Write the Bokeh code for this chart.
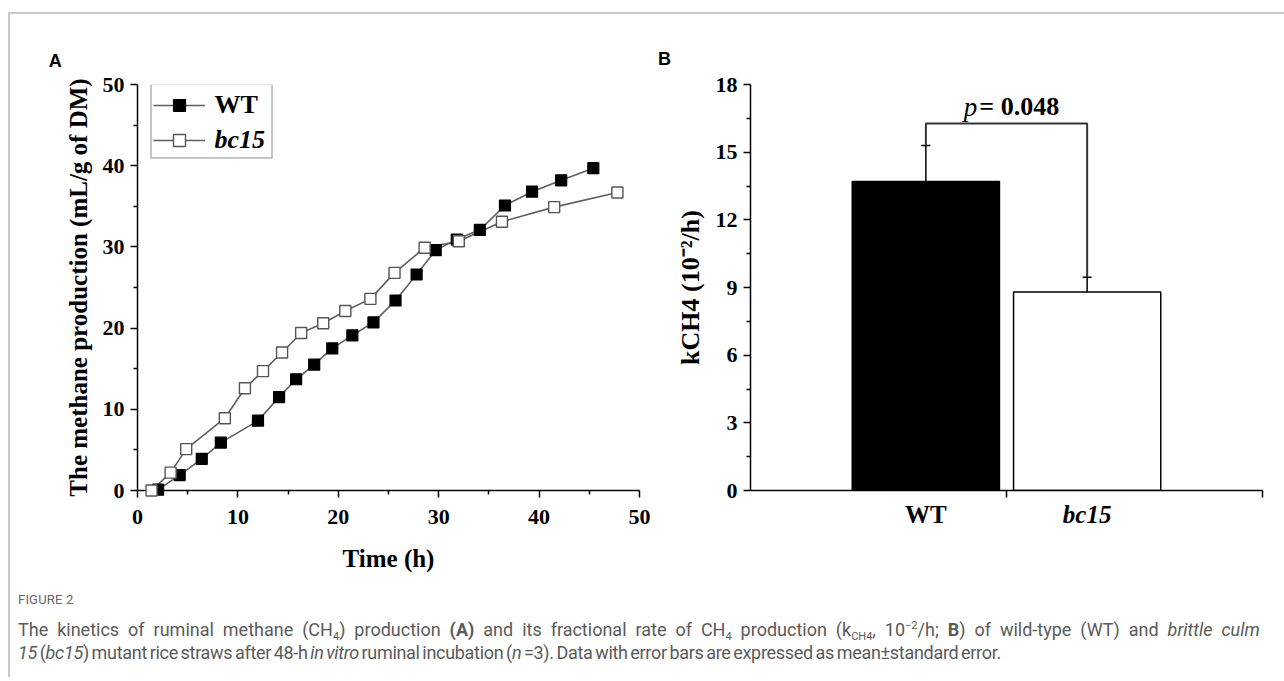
from bokeh.plotting import figure
from bokeh.models import (Range1d, FixedTicker, Legend, LegendItem, BoxAnnotation,
                          Label, Whisker, TeeHead, ColumnDataSource, Div, Spacer)
from bokeh.layouts import row, column
from bokeh.embed import file_html
from bokeh.resources import INLINE
from bokeh.core.properties import value

# ---------------- data ----------------
wt_time = [2.05, 4.2, 6.4, 8.3, 12.0, 14.1, 15.8, 17.6, 19.4, 21.4, 23.5, 25.7,
           27.8, 29.7, 31.8, 34.1, 36.6, 39.3, 42.2, 45.4]
wt_ch4 = [0.1, 1.9, 3.9, 5.9, 8.6, 11.5, 13.7, 15.5, 17.5, 19.1, 20.7, 23.4,
          26.6, 29.6, 30.9, 32.1, 35.1, 36.8, 38.2, 39.7]
bc15_time = [1.4, 3.3, 4.85, 8.7, 10.7, 12.5, 14.4, 16.3, 18.5, 20.7, 23.2, 25.6,
             28.6, 32.0, 36.3, 41.5, 47.8]
bc15_ch4 = [0.0, 2.2, 5.1, 8.9, 12.6, 14.7, 17.0, 19.4, 20.6, 22.1, 23.6, 26.8,
            29.9, 30.7, 33.1, 34.9, 36.7]

groups = ["WT", "bc15"]
k_mean = [13.7, 8.8]
k_se = [1.6, 0.65]
p_label = "0.048"

a_ticks = [0, 10, 20, 30, 40, 50]
a_minor = [5, 15, 25, 35, 45]
b_yticks = [0, 3, 6, 9, 12, 15, 18]
b_yminor = [1.5, 4.5, 7.5, 10.5, 13.5, 16.5]

SERIF = "Liberation Serif"


def style_axis(ax):
    ax.axis_line_color = "black"
    ax.axis_line_width = 1.5
    ax.major_tick_line_color = "black"
    ax.major_tick_line_width = 1.5
    ax.major_tick_out = 7
    ax.major_tick_in = 0
    ax.minor_tick_line_color = "black"
    ax.minor_tick_line_width = 1.5
    ax.minor_tick_out = 4
    ax.minor_tick_in = 0
    ax.major_label_text_font = SERIF
    ax.major_label_text_font_style = "bold"
    ax.major_label_text_font_size = "22px"
    ax.major_label_text_color = "black"
    ax.major_label_standoff = 6
    ax.axis_label_text_font = SERIF
    ax.axis_label_text_font_style = "bold"
    ax.axis_label_text_font_size = "25px"
    ax.axis_label_text_color = "black"


def base_fig(width, xr, yr, left, right):
    p = figure(width=width, height=578, x_range=xr, y_range=yr,
               output_backend="svg", toolbar_location=None,
               min_border_left=left, min_border_right=right,
               min_border_top=70, min_border_bottom=102)
    p.xgrid.visible = False
    p.ygrid.visible = False
    p.outline_line_color = None
    p.background_fill_color = "white"
    p.border_fill_color = "white"
    return p


# ---------------- panel A ----------------
pA = base_fig(640, Range1d(0, 50), Range1d(0, 50), 127, 11)
pA.xaxis.ticker = FixedTicker(ticks=a_ticks, minor_ticks=a_minor)
pA.yaxis.ticker = FixedTicker(ticks=a_ticks, minor_ticks=a_minor)
style_axis(pA.xaxis[0])
style_axis(pA.yaxis[0])
pA.xaxis.major_label_standoff = 12
pA.xaxis.axis_label = "Time (h)"
pA.xaxis.axis_label_standoff = 18
pA.yaxis.axis_label = "The methane production (mL/g of DM)"
pA.yaxis.axis_label_standoff = 8

wt_line = pA.line(wt_time, wt_ch4, line_color="#5e5e5e", line_width=1.6, level="overlay")
bc_line = pA.line(bc15_time, bc15_ch4, line_color="#5e5e5e", line_width=1.6, level="overlay")
wt_pts = pA.scatter(wt_time, wt_ch4, marker="square", size=11,
                    fill_color="black", line_color="black", line_width=1.2, level="overlay")
bc_pts = pA.scatter(bc15_time, bc15_ch4, marker="square", size=11,
                    fill_color="white", line_color="#555555", line_width=1.4, level="overlay")

leg_common = dict(label_text_font=SERIF, label_text_font_size="26px",
                  label_text_color="black",
                  glyph_width=52, glyph_height=30, label_height=30, label_standoff=10,
                  padding=0, margin=0, spacing=0, border_line_color=None,
                  background_fill_alpha=0)
leg1 = Legend(items=[LegendItem(label="WT", renderers=[wt_line, wt_pts])],
              location=(15.5, 370), label_text_font_style="bold", **leg_common)
leg2 = Legend(items=[LegendItem(label="bc15", renderers=[bc_line, bc_pts])],
              location=(15.5, 335), label_text_font_style="bold italic", **leg_common)
pA.add_layout(leg1)
pA.add_layout(leg2)
pA.add_layout(BoxAnnotation(left=1.35, right=13.4, top=50.06, bottom=40.96,
                            fill_color=None, line_color="black", line_width=1.5))
pA.text(x=[-8.2], y=[52.9], text=["A"], text_font=value("Liberation Sans"),
        text_font_style="bold", text_font_size="18px", text_color="black",
        text_align="center", text_baseline="alphabetic", level="overlay")

# ---------------- panel B ----------------
pB = base_fig(624, Range1d(0, 2), Range1d(0, 18), 100, 12)
pB.yaxis.ticker = FixedTicker(ticks=b_yticks, minor_ticks=b_yminor)
pB.xaxis.ticker = FixedTicker(ticks=[1, 2])
style_axis(pB.xaxis[0])
style_axis(pB.yaxis[0])
pB.xaxis.major_label_text_font_size = "0px"
pB.xaxis.major_label_text_color = None
pB.yaxis.axis_label = "kCH4 (10\u207b\u00b2/h)"
pB.yaxis.axis_label_text_font_size = "26px"
pB.yaxis.axis_label_standoff = 8

offset = 0.315
centers = [1 - offset, 1 + offset]
uppers = [m + s for m, s in zip(k_mean, k_se)]
lowers = [m - s for m, s in zip(k_mean, k_se)]
src = ColumnDataSource(dict(x=centers, top=k_mean, upper=uppers, lower=lowers,
                            color=["black", "white"], label=groups,
                            style=["bold", "bold italic"]))
pB.vbar(x="x", top="top", width=0.575, source=src, fill_color="color",
        line_color="black", line_width=1.5)
pB.add_layout(Whisker(base="x", upper="upper", lower="lower", source=src,
                      line_color="black", line_width=1.5,
                      upper_head=TeeHead(size=9, line_width=1.5, line_color="black"),
                      lower_head=TeeHead(size=9, line_width=1.5, line_color="black")))

bracket_y = 16.27
pB.line(x=[centers[0], centers[0], centers[1], centers[1]],
        y=[uppers[0], bracket_y, bracket_y, uppers[1]],
        line_color="#333333", line_width=2)

pB.text(x="x", y=-1.07, text="label", source=src, text_font=value(SERIF),
        text_font_style="style", text_font_size="25px", text_color="black",
        text_align="center", text_baseline="middle", level="overlay")

pB.add_layout(Label(x=0.886, y=17.02, text="p", text_font=SERIF,
                    text_font_style="italic", text_font_size="27px", text_color="black",
                    text_align="right", text_baseline="alphabetic"))
pB.add_layout(Label(x=0.894, y=17.02, text="= " + p_label, text_font=SERIF,
                    text_font_style="bold", text_font_size="26px", text_color="black",
                    text_align="left", text_baseline="alphabetic"))
pB.text(x=[-0.336], y=[19.11], text=["B"], text_font=value("Liberation Sans"),
        text_font_style="bold", text_font_size="18px", text_color="black",
        text_align="center", text_baseline="alphabetic", level="overlay")

# ---------------- caption ----------------
SUB = '<span style="font-size:11px; vertical-align:-4px; line-height:0">'
SUP = '<span style="font-size:11px; vertical-align:7px; line-height:0">'
caption_html = (
    '<div style="font-family:Roboto, \'Noto Sans\', sans-serif; color:#5a5a5a; padding-left:8px;">'
    '<div style="font-size:13px; line-height:16px; letter-spacing:0.2px; color:#666; margin:0 0 10px 0;">FIGURE 2</div>'
    '<div style="font-size:18px; line-height:23px; white-space:nowrap;">'
    '<span style="word-spacing:4.5px">'
    'The kinetics of ruminal methane (CH' + SUB + '4</span>) production <b>(A)</b> '
    'and its fractional rate of CH' + SUB + '4</span> production '
    '(k' + SUB + 'CH4</span>, 10' + SUP + '\u22122</span>/h; <b>B</b>) '
    'of wild-type (WT) and <i>brittle culm</i></span><br>'
    '<span style="word-spacing:-1.5px; letter-spacing:-0.3px">'
    '<i>15</i> (<i>bc15</i>) mutant rice straws after 48-h <i>in vitro</i> ruminal incubation '
    '(<i>n</i> =3). Data with error bars are expressed as mean\u00b1standard error.'
    '</span></div></div>'
)
cap = Div(text=caption_html, width=1264, height=85, margin=0)

GRAY = "#c9c9c9"
top_strip = Div(text="", width=1276, height=2, margin=0,
                styles={"background-color": GRAY})
left_strip = Div(text="", width=2, height=663, margin=0,
                 styles={"background-color": GRAY})

content = column(row(pA, pB), cap)
layout = column(Spacer(height=12),
                row(Spacer(width=8),
                    column(top_strip, row(left_strip, content))))

open("out.html", "w").write(file_html(layout, INLINE))
